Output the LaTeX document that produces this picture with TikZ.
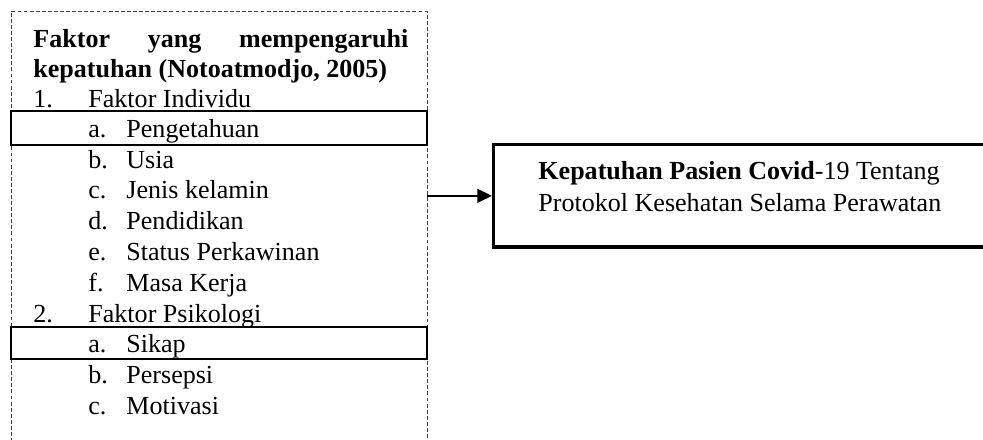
\documentclass[tikz,border=0pt]{standalone}
\usepackage{fontspec}
\setmainfont{Liberation Serif}
\usetikzlibrary{arrows.meta,positioning}
\tikzset{
  >={Triangle[length=6.8pt,width=6.4pt]},
  teks/.style={font=\fontsize{12}{14}\selectfont, inner sep=0pt, anchor=base west},
  judul/.style={teks, font=\fontsize{12}{14}\selectfont\bfseries},
  kotakputus/.style={draw=black!75, line width=0.45pt, dash pattern=on 1.8pt off 1pt,
    anchor=north west, inner sep=0pt, outer sep=0pt},
  kotaksorot/.style={draw=black, line width=0.9pt, anchor=north west,
    inner sep=0pt, outer sep=0pt, minimum width=191.7pt},
  kotakhasil/.style={draw=black, line width=1.5pt, anchor=north west, inner sep=0pt},
  panah/.style={->, line width=0.7pt},
}

\begin{document}
\begin{tikzpicture}[x=0.4608pt, y=-0.4608pt]
\useasboundingbox (0,0) rectangle (983,439);
% kotak faktor (garis putus-putus)
\node[kotakputus, minimum width=191.7pt, minimum height=215pt] (faktor) at (11,11) {};
\node[kotaksorot, minimum height=15.7pt] (sorotA) at (11,111) {};
\node[kotaksorot, minimum height=14.7pt] (sorotB) at (11,327) {};
% judul
\node[judul] (judulA) at (33,47) {\makebox[172.8pt][s]{Faktor yang mempengaruhi}};
\node[judul] (judulB) at (33,77) {kepatuhan (Notoatmodjo, 2005)};
% faktor individu
\node[teks] (nomorA) at (33,107) {1.};
\node[teks] (individu) at (88,107) {Faktor Individu};
\foreach \h/\isi/\yy [count=\i] in {a/Pengetahuan/137, b/Usia/168, c/Jenis kelamin/198,
    d/Pendidikan/229, e/Status Perkawinan/260, f/Masa Kerja/291}{
  \node[teks] (hurufA\i) at (88,\yy) {\h.};
  \node[teks] (isiA\i) at (126,\yy) {\isi};
}
% faktor psikologi
\node[teks] (nomorB) at (33,322) {2.};
\node[teks] (psikologi) at (88,322) {Faktor Psikologi};
\foreach \h/\isi/\yy [count=\i] in {a/Sikap/352, b/Persepsi/383, c/Motivasi/414}{
  \node[teks] (hurufB\i) at (88,\yy) {\h.};
  \node[teks] (isiB\i) at (126,\yy) {\isi};
}
% kotak hasil
\node[kotakhasil, minimum width=232pt, minimum height=47.2pt] (hasil) at (492,143) {};
\node[teks] (hasilA) at (538,179) {\textbf{Kepatuhan Pasien Covid}-19 Tentang};
\node[teks] (hasilB) at (538,211) {Protokol Kesehatan Selama Perawatan};
\draw[panah] (faktor.east |- hasil.west) -- (hasil.west);
\end{tikzpicture}
\end{document}
